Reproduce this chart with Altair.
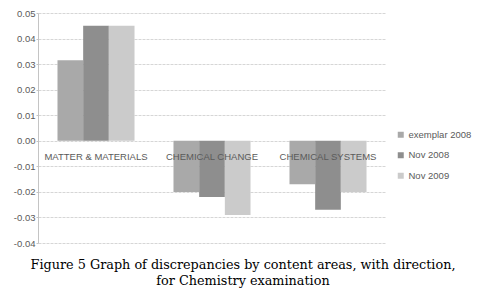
import altair as alt
import pandas as pd

categories = ["MATTER & MATERIALS", "CHEMICAL CHANGE", "CHEMICAL SYSTEMS"]
series = ["exemplar 2008", "Nov 2008", "Nov 2009"]
exemplar_2008 = [0.0315, -0.020, -0.017]
nov_2008 = [0.045, -0.022, -0.027]
nov_2009 = [0.045, -0.029, -0.020]
y_ticks = [0.05, 0.04, 0.03, 0.02, 0.01, 0.0, -0.01, -0.02, -0.03, -0.04]
colors = ["#a9a9a9", "#8e8e8e", "#cbcbcb"]
caption = ["Figure 5 Graph of discrepancies by content areas, with direction,",
           "for Chemistry examination"]

rows = []
for s, vals in zip(series, [exemplar_2008, nov_2008, nov_2009]):
    for c, v in zip(categories, vals):
        rows.append({"category": c, "series": s, "value": v})
df = pd.DataFrame(rows)
labels_df = pd.DataFrame({"category": categories, "zero": [0.0] * len(categories)})

FONT = "Liberation Sans"

xscale = alt.Scale(domain=categories, paddingInner=0.336, paddingOuter=0.168)
yscale = alt.Scale(domain=[-0.04, 0.05], nice=False, zero=False)
yaxis = alt.Axis(values=y_ticks, title=None, labelOverlap=False,
                 labelExpr="(datum.value < -0.0001 ? '-' : '') + format(abs(datum.value), '.2f')",
                 labelFont=FONT, labelFontSize=9.5, labelColor="#5a5a5a",
                 labelPadding=1, domainColor="#c4c4c4", tickColor="#c4c4c4",
                 tickSize=2, gridColor="#d6d6d6", gridDash=[3, 1])

bars = alt.Chart(df).mark_bar().encode(
    x=alt.X("category:N", sort=categories, scale=xscale, axis=None),
    xOffset=alt.XOffset("series:N", sort=series,
                        scale=alt.Scale(domain=series, paddingInner=0, paddingOuter=0)),
    y=alt.Y("value:Q", scale=yscale, axis=yaxis),
    color=alt.Color("series:N", sort=series,
                    scale=alt.Scale(domain=series, range=colors),
                    legend=alt.Legend(title=None, orient="none", legendX=358, legendY=117,
                                      symbolType="square", symbolSize=36, symbolStrokeWidth=0,
                                      labelFont=FONT, labelFontSize=9.5, labelLimit=200,
                                      labelColor="#5a5a5a", rowPadding=9.5, labelOffset=3)),
)

texts = alt.Chart(labels_df).mark_text(
    dy=16, font=FONT, fontSize=9.5, color="#5a5a5a"
).encode(
    x=alt.X("category:N", sort=categories, scale=xscale, axis=None),
    y=alt.Y("zero:Q", scale=yscale, axis=yaxis),
    text="category:N",
)

chart = alt.layer(bars, texts).properties(
    width=348, height=230,
    autosize=alt.AutoSizeParams(type="none"),
    padding={"left": 30, "top": 5, "right": 88, "bottom": 51},
    title=alt.TitleParams(text=caption, orient="bottom", anchor="middle",
                          font="DejaVu Serif", fontSize=12.8, fontWeight="normal",
                          color="black", dx=31, offset=11, lineHeight=16),
).configure(background="white").configure_view(stroke=None)

chart.save("out.html", embed_options={"renderer": "svg", "actions": False})
